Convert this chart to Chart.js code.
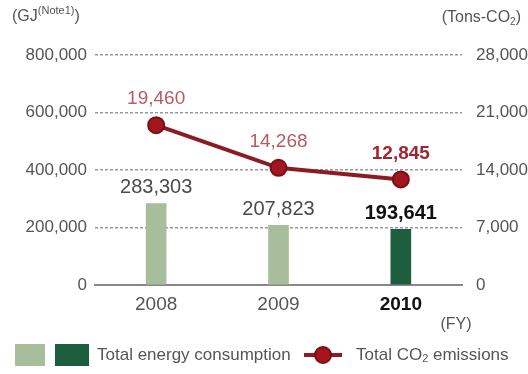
<!DOCTYPE html>
<html>
<head>
<meta charset="utf-8">
<script src="https://cdn.jsdelivr.net/npm/chart.js@4"></script>
<style>
  html, body { margin: 0; padding: 0; background: #fff; }
  #wrap { width: 528px; height: 374px; }
</style>
</head>
<body>
<div id="wrap"><canvas id="chart" width="528" height="374"></canvas></div>
<script>
var years = ['2008', '2009', '2010'];
var energyGJ = [283303, 207823, 193641];
var co2Tons = [19460, 14268, 12845];
var energyTicks = [0, 200000, 400000, 600000, 800000];
var co2Ticks = [0, 7000, 14000, 21000, 28000];

var FONT = "'Liberation Sans', Arial, sans-serif";
var fmt = function (v) { return v.toLocaleString('en-US'); };

// value labels, unit captions and the legend
var annotations = {
    id: 'annotations',
    afterDatasetsDraw: function (chart) {
        var ctx = chart.ctx;
        var bars = chart.getDatasetMeta(0).data;
        var pts = chart.getDatasetMeta(1).data;
        ctx.save();
        ctx.textAlign = 'center';
        ctx.textBaseline = 'middle';

        bars.forEach(function (b, i) {
            var last = i === bars.length - 1;
            ctx.font = (last ? 'bold ' : '') + '20px ' + FONT;
            ctx.fillStyle = last ? '#111' : '#4a4a4a';
            ctx.fillText(fmt(energyGJ[i]), b.x, b.y - 16);
        });
        pts.forEach(function (p, i) {
            var last = i === pts.length - 1;
            ctx.font = (last ? 'bold ' : '') + '19px ' + FONT;
            ctx.fillStyle = last ? '#a3262e' : '#b85a5e';
            ctx.fillText(fmt(co2Tons[i]), p.x, p.y - 26);
        });

        // axis unit captions
        ctx.fillStyle = '#555';
        ctx.textAlign = 'left';
        ctx.font = '16px ' + FONT;
        ctx.fillText('(GJ', 12, 17);
        var w = ctx.measureText('(GJ').width;
        ctx.font = '11px ' + FONT;
        ctx.fillText('(Note1)', 12 + w, 11);
        var w2 = ctx.measureText('(Note1)').width;
        ctx.font = '16px ' + FONT;
        ctx.fillText(')', 12 + w + w2, 17);

        ctx.textAlign = 'right';
        ctx.font = '16px ' + FONT;
        ctx.fillText(')', 521, 18);
        var r = ctx.measureText(')').width;
        ctx.font = '10px ' + FONT;
        ctx.fillText('2', 521 - r, 22);
        var s = ctx.measureText('2').width;
        ctx.font = '16px ' + FONT;
        ctx.fillText('(Tons-CO', 521 - r - s, 18);

        ctx.textAlign = 'center';
        ctx.fillText('(FY)', 456, 325);

        // legend
        var ly = 355;
        ctx.fillStyle = '#a8bd9c';
        ctx.fillRect(15, ly - 11, 30, 22);
        ctx.fillStyle = '#1d5e3e';
        ctx.fillRect(55, ly - 11, 34, 22);
        ctx.fillStyle = '#555';
        ctx.textAlign = 'left';
        ctx.font = '17px ' + FONT;
        ctx.fillText('Total energy consumption', 97, ly);

        ctx.strokeStyle = '#8c1c24';
        ctx.lineWidth = 4;
        ctx.beginPath();
        ctx.moveTo(304, ly);
        ctx.lineTo(342, ly);
        ctx.stroke();
        ctx.beginPath();
        ctx.arc(323, ly, 8, 0, Math.PI * 2);
        ctx.fillStyle = '#a3161f';
        ctx.fill();
        ctx.lineWidth = 2;
        ctx.strokeStyle = '#7a0f15';
        ctx.stroke();

        ctx.fillStyle = '#555';
        ctx.font = '17px ' + FONT;
        ctx.fillText('Total CO', 356, ly);
        var c = ctx.measureText('Total CO').width;
        ctx.font = '11px ' + FONT;
        ctx.fillText('2', 356 + c, ly + 4);
        var c2 = ctx.measureText('2').width;
        ctx.font = '17px ' + FONT;
        ctx.fillText(' emissions', 356 + c + c2, ly);
        ctx.restore();
    }
};

new Chart(document.getElementById('chart').getContext('2d'), {
    data: {
        labels: years,
        datasets: [{
            type: 'bar',
            label: 'Total energy consumption',
            data: energyGJ,
            backgroundColor: ['#a8bd9c', '#a8bd9c', '#1d5e3e'],
            barThickness: 20,
            yAxisID: 'y',
            order: 2
        }, {
            type: 'line',
            label: 'Total CO2 emissions',
            data: co2Tons,
            borderColor: '#8c1c24',
            borderWidth: 4,
            pointRadius: 8,
            pointBackgroundColor: '#a3161f',
            pointBorderColor: '#7a0f15',
            pointBorderWidth: 2,
            tension: 0,
            yAxisID: 'y1',
            order: 1
        }]
    },
    options: {
        responsive: false,
        animation: false,
        layout: { padding: { top: 55, right: 0, left: 0, bottom: 0 } },
        plugins: { legend: { display: false }, tooltip: { enabled: false } },
        scales: {
            x: {
                grid: { display: false },
                border: { display: true, color: '#888', width: 2 },
                ticks: {
                    padding: 0,
                    font: function (c) {
                        return { family: FONT, size: 19, weight: c.index === 2 ? 'bold' : 'normal' };
                    },
                    color: function (c) { return c.index === 2 ? '#111' : '#555'; }
                },
                afterFit: function (s) { s.height = 89; }
            },
            y: {
                position: 'left',
                min: 0,
                max: 800000,
                afterBuildTicks: function (s) {
                    s.ticks = energyTicks.map(function (v) { return { value: v }; });
                },
                ticks: {
                    padding: 8,
                    color: '#555',
                    font: { family: FONT, size: 17 },
                    callback: function (v) { return fmt(v); }
                },
                grid: {
                    drawTicks: false,
                    color: function (c) { return c.tick && c.tick.value === 0 ? 'rgba(0,0,0,0)' : '#999'; },
                    lineWidth: 1.5
                },
                border: { display: false, dash: [3, 2] },
                afterFit: function (s) { s.width = 95; }
            },
            y1: {
                position: 'right',
                min: 0,
                max: 28000,
                afterBuildTicks: function (s) {
                    s.ticks = co2Ticks.map(function (v) { return { value: v }; });
                },
                ticks: {
                    padding: 6,
                    color: '#555',
                    font: { family: FONT, size: 17 },
                    callback: function (v) { return fmt(v); }
                },
                grid: { display: false },
                border: { display: false },
                afterFit: function (s) { s.width = 66; }
            }
        }
    },
    plugins: [annotations]
});
</script>
</body>
</html>
